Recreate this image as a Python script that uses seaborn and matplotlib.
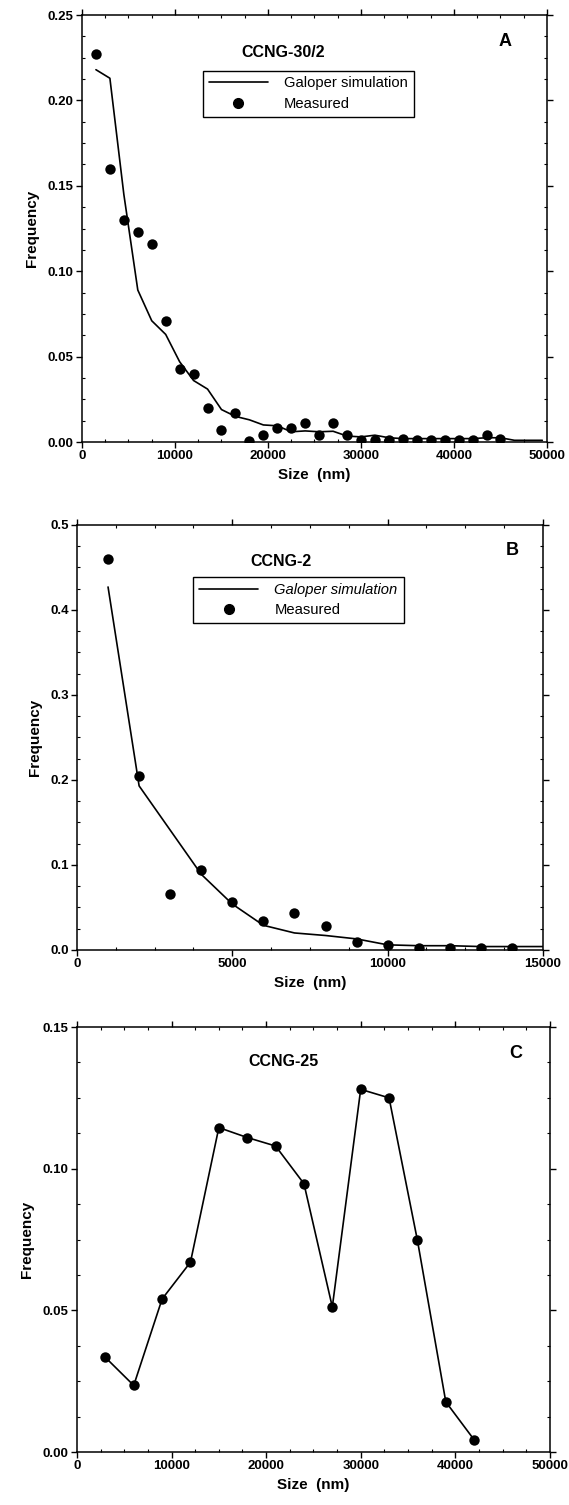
import matplotlib
matplotlib.use('Agg')
import matplotlib.pyplot as plt
import seaborn as sns
from matplotlib.ticker import AutoMinorLocator, FixedLocator
from matplotlib.lines import Line2D

# ── Data: panel A (CCNG-30/2) ─────────────────────────────────────────────
a_meas_x = [1500, 3000, 4500, 6000, 7500, 9000, 10500, 12000, 13500, 15000,
            16500, 18000, 19500, 21000, 22500, 24000, 25500, 27000, 28500, 30000,
            31500, 33000, 34500, 36000, 37500, 39000, 40500, 42000, 43500, 45000]
a_meas_y = [0.227, 0.160, 0.130, 0.123, 0.116, 0.071, 0.043, 0.040, 0.020, 0.007,
            0.017, 0.0005, 0.004, 0.008, 0.008, 0.011, 0.004, 0.011, 0.004, 0.001,
            0.001, 0.001, 0.0015, 0.001, 0.001, 0.001, 0.001, 0.001, 0.004, 0.0015]
a_sim_x = [1500, 3000, 4500, 6000, 7500, 9000, 10500, 12000, 13500, 15000,
           16500, 18000, 19500, 21000, 22500, 24000, 25500, 27000, 28500, 30000,
           31500, 33000, 34500, 36000, 37500, 39000, 40500, 42000, 43500, 45000,
           46500, 48000, 49500]
a_sim_y = [0.218, 0.213, 0.145, 0.089, 0.071, 0.063, 0.047, 0.036, 0.031, 0.019,
           0.015, 0.013, 0.010, 0.0095, 0.006, 0.0065, 0.006, 0.0063, 0.0035, 0.003,
           0.004, 0.0025, 0.002, 0.002, 0.002, 0.002, 0.002, 0.002, 0.0025, 0.0025,
           0.001, 0.001, 0.001]

# ── Data: panel B (CCNG-2) ────────────────────────────────────────────────
b_meas_x = [1000, 2000, 3000, 4000, 5000, 6000, 7000, 8000, 9000, 10000,
            11000, 12000, 13000, 14000]
b_meas_y = [0.460, 0.205, 0.066, 0.094, 0.057, 0.034, 0.044, 0.028, 0.009, 0.006,
            0.002, 0.0023, 0.0023, 0.0023]
b_sim_x = [1000, 2000, 3000, 4000, 5000, 6000, 7000, 8000, 9000, 10000,
           11000, 12000, 13000, 14000, 15000]
b_sim_y = [0.427, 0.193, 0.141, 0.089, 0.054, 0.029, 0.020, 0.017, 0.013, 0.006,
           0.005, 0.005, 0.004, 0.004, 0.004]

# ── Data: panel C (CCNG-25) ───────────────────────────────────────────────
c_x = [3000, 6000, 9000, 12000, 15000, 18000, 21000, 24000, 27000, 30000,
       33000, 36000, 39000, 42000]
c_y = [0.0334, 0.0235, 0.054, 0.067, 0.1145, 0.111, 0.108, 0.0947, 0.0512, 0.128,
       0.125, 0.0747, 0.0177, 0.0043]

sns.set_theme(style='ticks')
plt.rcParams['font.family'] = ['Liberation Sans', 'DejaVu Sans']
plt.rcParams['text.color'] = 'black'
plt.rcParams['axes.labelcolor'] = 'black'
plt.rcParams['xtick.color'] = 'black'
plt.rcParams['ytick.color'] = 'black'

fig = plt.figure(figsize=(5.69, 15.05), dpi=100)
axA = fig.add_axes([0.1441, 0.7063, 0.8172, 0.2837])
axB = fig.add_axes([0.1353, 0.3688, 0.8190, 0.2824])
axC = fig.add_axes([0.1353, 0.0352, 0.8310, 0.2824])

MS = 56
LW = 1.2


def style_axes(ax, xmax, xstep, ymax, ystep, yfmt):
    ax.set_xlim(0, xmax)
    ax.set_ylim(0, ymax)
    ax.xaxis.set_major_locator(FixedLocator(list(range(0, xmax + 1, xstep))))
    n = int(round(ymax / ystep))
    ax.yaxis.set_major_locator(FixedLocator([i * ystep for i in range(n + 1)]))
    ax.set_yticklabels([yfmt.format(i * ystep) for i in range(n + 1)])
    ax.xaxis.set_minor_locator(AutoMinorLocator(4))
    ax.yaxis.set_minor_locator(AutoMinorLocator(4))
    ax.tick_params(which='major', direction='out', length=4, width=1,
                   color='black', labelcolor='black', labelsize=9.5, pad=2,
                   right=True, top=True)
    ax.tick_params(which='minor', direction='in', length=2, width=0.8,
                   color='black', right=True, top=True)
    for lab in ax.get_xticklabels() + ax.get_yticklabels():
        lab.set_fontweight('bold')
    for sp in ax.spines.values():
        sp.set_visible(True)
        sp.set_linewidth(1.1)
        sp.set_color('black')
    ax.set_xlabel('Size  (nm)', fontsize=11, fontweight='bold', labelpad=4,
                  color='black')
    ax.set_ylabel('Frequency', fontsize=11, fontweight='bold', labelpad=6,
                  color='black')


def add_legend(ax, anchor, italic=False):
    handles = [Line2D([], [], color='black', lw=LW),
               Line2D([], [], color='black', lw=0, marker='o', markersize=7)]
    leg = ax.legend(handles, ['Galoper simulation', 'Measured'],
                    loc='upper left', bbox_to_anchor=anchor, borderaxespad=0,
                    fontsize=10.6, handlelength=4.0, handletextpad=1.1,
                    labelspacing=0.45, borderpad=0.4, fancybox=False,
                    framealpha=1, edgecolor='black', labelcolor='black')
    leg.get_frame().set_linewidth(1.0)
    if italic:
        leg.get_texts()[0].set_fontstyle('italic')


# ── Panel A ───────────────────────────────────────────────────────────────
sns.lineplot(x=a_sim_x, y=a_sim_y, ax=axA, color='black', lw=LW)
sns.scatterplot(x=a_meas_x, y=a_meas_y, ax=axA, color='black', s=MS,
                edgecolor='black', linewidth=0, zorder=3)
style_axes(axA, 50000, 10000, 0.25, 0.05, '{:.2f}')
add_legend(axA, (0.26, 0.87))
axA.text(0.432, 0.913, 'CCNG-30/2', transform=axA.transAxes, ha='center',
         va='center', fontsize=11.5, fontweight='bold')
axA.text(0.91, 0.937, 'A', transform=axA.transAxes, ha='center',
         va='center', fontsize=13, fontweight='bold')

# ── Panel B ───────────────────────────────────────────────────────────────
sns.lineplot(x=b_sim_x, y=b_sim_y, ax=axB, color='black', lw=LW)
sns.scatterplot(x=b_meas_x, y=b_meas_y, ax=axB, color='black', s=MS,
                edgecolor='black', linewidth=0, zorder=3)
style_axes(axB, 15000, 5000, 0.5, 0.1, '{:.1f}')
add_legend(axB, (0.25, 0.878), italic=True)
axB.text(0.438, 0.914, 'CCNG-2', transform=axB.transAxes, ha='center',
         va='center', fontsize=11.5, fontweight='bold')
axB.text(0.933, 0.939, 'B', transform=axB.transAxes, ha='center',
         va='center', fontsize=13, fontweight='bold')

# ── Panel C ───────────────────────────────────────────────────────────────
sns.lineplot(x=c_x, y=c_y, ax=axC, color='black', lw=LW, marker='o',
             markersize=7.5, markeredgewidth=0)
style_axes(axC, 50000, 10000, 0.15, 0.05, '{:.2f}')
axC.text(0.437, 0.918, 'CCNG-25', transform=axC.transAxes, ha='center',
         va='center', fontsize=11.5, fontweight='bold')
axC.text(0.928, 0.938, 'C', transform=axC.transAxes, ha='center',
         va='center', fontsize=13, fontweight='bold')

fig.savefig('out.png', dpi=100)
plt.close(fig)
